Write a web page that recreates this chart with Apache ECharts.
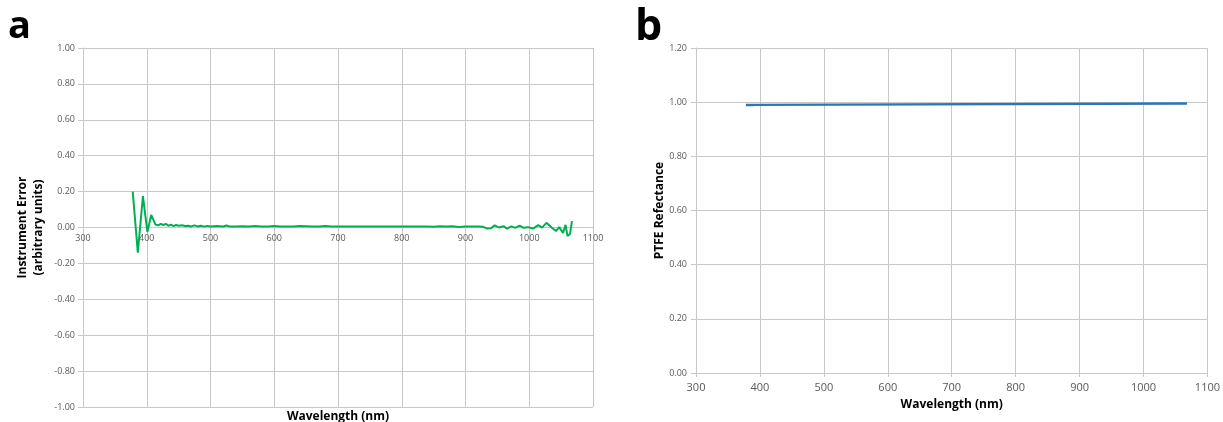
<!DOCTYPE html>
<html>
<head>
<meta charset="utf-8">
<script src="https://cdn.jsdelivr.net/npm/echarts@6/dist/echarts.min.js"></script>
<style>
html,body{margin:0;padding:0;background:#fff;}
#c{width:1223px;height:422px;}
</style>
</head>
<body>
<div id="c"></div>
<script>
// ---- Panel a: instrument error ----
const wavelengthA = [378,386,394,401,407,410,414,418,422,426,430,434,438,442,446,450,455,460,465,470,475,480,485,490,495,500,510,520,525,530,540,550,560,570,580,590,600,610,620,630,640,650,660,670,680,690,700,720,740,760,780,800,820,840,850,860,870,880,890,900,910,920,928,934,940,946,952,960,965,972,978,985,991,998,1006,1014,1020,1027,1035,1042,1047,1053,1057,1060,1064,1067];
const errorA = [0.20,-0.14,0.175,-0.025,0.07,0.065,0.015,0.012,0.02,0.014,0.02,0.01,0.016,0.008,0.014,0.01,0.012,0.008,0.01,0.006,0.012,0.006,0.01,0.005,0.009,0.006,0.008,0.006,0.011,0.006,0.005,0.007,0.005,0.008,0.005,0.006,0.008,0.005,0.006,0.005,0.009,0.007,0.005,0.006,0.008,0.005,0.006,0.005,0.005,0.005,0.005,0.005,0.005,0.006,0.004,0.007,0.005,0.007,0.003,0.006,0.005,0.005,0.004,-0.006,-0.004,0.012,0.0,0.007,-0.006,0.006,-0.002,0.011,-0.002,0.002,-0.006,0.013,-0.001,0.026,0.0,-0.02,0.002,-0.03,0.015,-0.048,-0.035,0.035];

// ---- Panel b: PTFE reflectance ----
const wavelengthB = [378,390,391,1068];
const reflectB = [0.990,0.990,0.995,0.995];

const xTicks = [300,400,500,600,700,800,900,1000,1100];
const yTicksA = [-1.0,-0.8,-0.6,-0.4,-0.2,0.0,0.2,0.4,0.6,0.8,1.0];
const yTicksB = [0.0,0.2,0.4,0.6,0.8,1.0,1.2];

const labelA = 'a', labelB = 'b';
const yNameA = 'Instrument Error\n(arbitrary units)';
const yNameB = 'PTFE Refectance';
const xName = 'Wavelength (nm)';

const FONT = 'Open Sans';
const gridColor = '#c8c8c8';
const labelColor = '#595959';

const chart = echarts.init(document.getElementById('c'), null, {renderer:'canvas'});

function pairs(xs, ys){ return xs.map((x,i)=>[x, ys[i]]); }

const gridA = {left:83, top:48, width:510, height:359};
const gridB = {left:696, top:48, width:515, height:325};
// the x axis of panel a sits on y = 0, the middle of its symmetric range
const zeroShiftA = -gridA.height / 2;

const option = {
  animation:false,
  backgroundColor:'#fff',
  grid:[
    Object.assign({containLabel:false}, gridA),
    Object.assign({containLabel:false}, gridB)
  ],
  graphic:[
    {type:'text', left:8, top:8, style:{text:labelA, font:'bold 38px "Open Sans"', fill:'#000'}},
    {type:'text', left:635, top:6, style:{text:labelB, font:'bold 43px "Open Sans"', fill:'#000'}},
    {type:'text', x:338, y:411, style:{text:xName, font:'bold 12px "Open Sans"', fill:'#000', align:'center', verticalAlign:'top'}}
  ],
  xAxis:[
    {type:'value', gridIndex:0, min:xTicks[0], max:xTicks[xTicks.length-1], interval:100,
      offset:zeroShiftA,
      axisLine:{show:true, onZero:false, lineStyle:{color:gridColor}},
      axisTick:{show:false},
      axisLabel:{color:labelColor, fontFamily:FONT, fontSize:9, margin:6, showMinLabel:true, showMaxLabel:true, formatter:v=>String(v)},
      splitLine:{show:true, lineStyle:{color:gridColor}}
    },
    {type:'value', gridIndex:1, min:xTicks[0], max:xTicks[xTicks.length-1], interval:100,
      name:xName, nameLocation:'middle', nameGap:26,
      nameTextStyle:{fontFamily:FONT, fontWeight:'bold', fontSize:12, color:'#000'},
      axisLine:{show:true, lineStyle:{color:gridColor}},
      axisTick:{show:true, length:4, lineStyle:{color:gridColor}},
      axisLabel:{color:labelColor, fontFamily:FONT, fontSize:11, margin:9, showMinLabel:true, showMaxLabel:true, formatter:v=>String(v)},
      splitLine:{show:true, lineStyle:{color:gridColor}}
    }
  ],
  yAxis:[
    {type:'value', gridIndex:0, min:yTicksA[0], max:yTicksA[yTicksA.length-1], interval:0.2,
      name:yNameA, nameLocation:'middle', nameGap:36, nameRotate:90,
      nameTextStyle:{fontFamily:FONT, fontWeight:'bold', fontSize:12, color:'#000', lineHeight:16},
      axisLine:{show:true, lineStyle:{color:gridColor}},
      axisTick:{show:true, length:5, lineStyle:{color:gridColor}},
      axisLabel:{color:labelColor, fontFamily:FONT, fontSize:9, margin:8, formatter:v=>v.toFixed(2)},
      splitLine:{show:true, lineStyle:{color:gridColor}}
    },
    {type:'value', gridIndex:1, min:yTicksB[0], max:yTicksB[yTicksB.length-1], interval:0.2,
      name:yNameB, nameLocation:'middle', nameGap:30, nameRotate:90,
      nameTextStyle:{fontFamily:FONT, fontWeight:'bold', fontSize:12, color:'#000'},
      axisLine:{show:true, lineStyle:{color:gridColor}},
      axisTick:{show:true, length:5, lineStyle:{color:gridColor}},
      axisLabel:{color:labelColor, fontFamily:FONT, fontSize:9, margin:9, formatter:v=>v.toFixed(2)},
      splitLine:{show:true, lineStyle:{color:gridColor}}
    }
  ],
  series:[
    {type:'line', xAxisIndex:0, yAxisIndex:0, data:pairs(wavelengthA, errorA),
      showSymbol:false, lineStyle:{color:'#00b050', width:2}, itemStyle:{color:'#00b050'}},
    {type:'line', xAxisIndex:1, yAxisIndex:1, data:pairs(wavelengthB, reflectB),
      showSymbol:false, lineStyle:{color:'#2e75b6', width:2.5}, itemStyle:{color:'#2e75b6'}}
  ]
};
chart.setOption(option);
</script>
</body>
</html>
